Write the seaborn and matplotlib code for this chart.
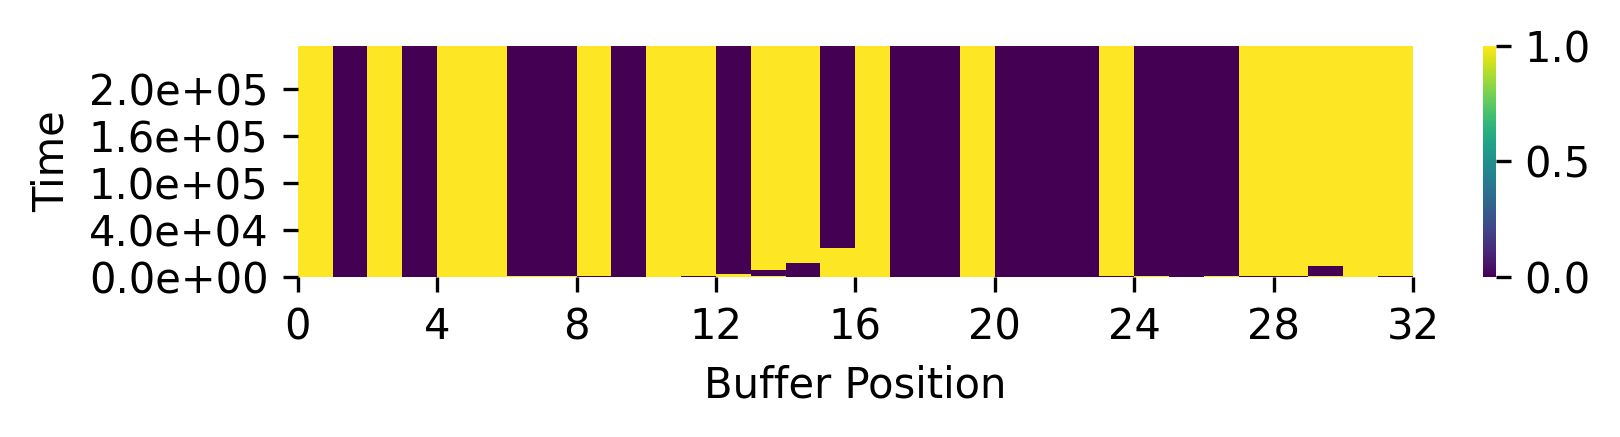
import numpy as np
import pandas as pd
import matplotlib
matplotlib.use("Agg")
import matplotlib.pyplot as plt
import seaborn as sns

# ---- data ----
n_positions = 32
n_rows = 236                       # time samples (rows of the heatmap)
# state of each buffer position for most of the run (upper part)
late_state = [1, 0, 1, 0, 1, 1, 0, 0, 1, 0, 1, 1, 0, 1, 1, 0,
              1, 0, 0, 1, 0, 0, 0, 1, 0, 0, 0, 1, 1, 1, 1, 1]
# state during the early period and number of rows it lasts
early_state = [1, 0, 1, 0, 1, 1, 0, 0, 1, 0, 1, 1, 1, 0, 0, 1,
               1, 0, 0, 1, 0, 0, 0, 1, 0, 0, 0, 1, 1, 0, 1, 1]
early_rows = [0, 0, 0, 0, 0, 0, 0, 0, 0, 0, 0, 0, 3, 7, 14, 30,
              0, 0, 0, 0, 0, 0, 0, 0, 0, 0, 0, 0, 0, 11, 0, 0]
# state in the very first sample
first_state = [1, 0, 1, 0, 1, 1, 1, 1, 0, 0, 1, 0, 1, 1, 0, 1,
               1, 0, 0, 1, 0, 0, 0, 0, 1, 0, 1, 0, 0, 1, 1, 0]
time_tick_rows = [0, 48, 96, 144, 192]
time_tick_values = [0.0, 4.0e4, 1.0e5, 1.6e5, 2.0e5]
x_ticks = list(range(0, 33, 4))

# ---- build matrix ----
mat = np.tile(np.array(late_state, dtype=float), (n_rows, 1))
for c in range(n_positions):
    if early_rows[c] > 0:
        mat[:early_rows[c], c] = early_state[c]
    mat[0, c] = first_state[c]
df = pd.DataFrame(mat, columns=range(n_positions))

# ---- plot ----
W, H, DPI = 1620, 437, 300
fig = plt.figure(figsize=(W / DPI, H / DPI), dpi=DPI)
ax = fig.add_axes([297.7 / W, (H - 277) / H, (1413 - 297.7) / W, (277 - 45.7) / H])
cax = fig.add_axes([1483 / W, (H - 277) / H, 12.5 / W, (277 - 45.7) / H])

sns.heatmap(df, ax=ax, cbar_ax=cax, cmap="viridis", vmin=0, vmax=1,
            xticklabels=False, yticklabels=False)
ax.invert_yaxis()

ax.set_xticks(x_ticks)
ax.set_xticklabels([str(t) for t in x_ticks], rotation=0, fontsize=10)
ax.set_yticks(time_tick_rows)
ax.set_yticklabels([f"{v:.1e}" for v in time_tick_values], rotation=0, fontsize=10)
ax.tick_params(axis="both", length=3.5, width=0.8)
ax.set_xlabel("Buffer Position", fontsize=10)
ax.set_ylabel("Time", fontsize=10)

cax.set_yticks([0.0, 0.5, 1.0])
cax.set_yticklabels(["0.0", "0.5", "1.0"])
cax.tick_params(labelsize=10, length=3.5, width=0.8)

fig.savefig("out.png", dpi=DPI)
